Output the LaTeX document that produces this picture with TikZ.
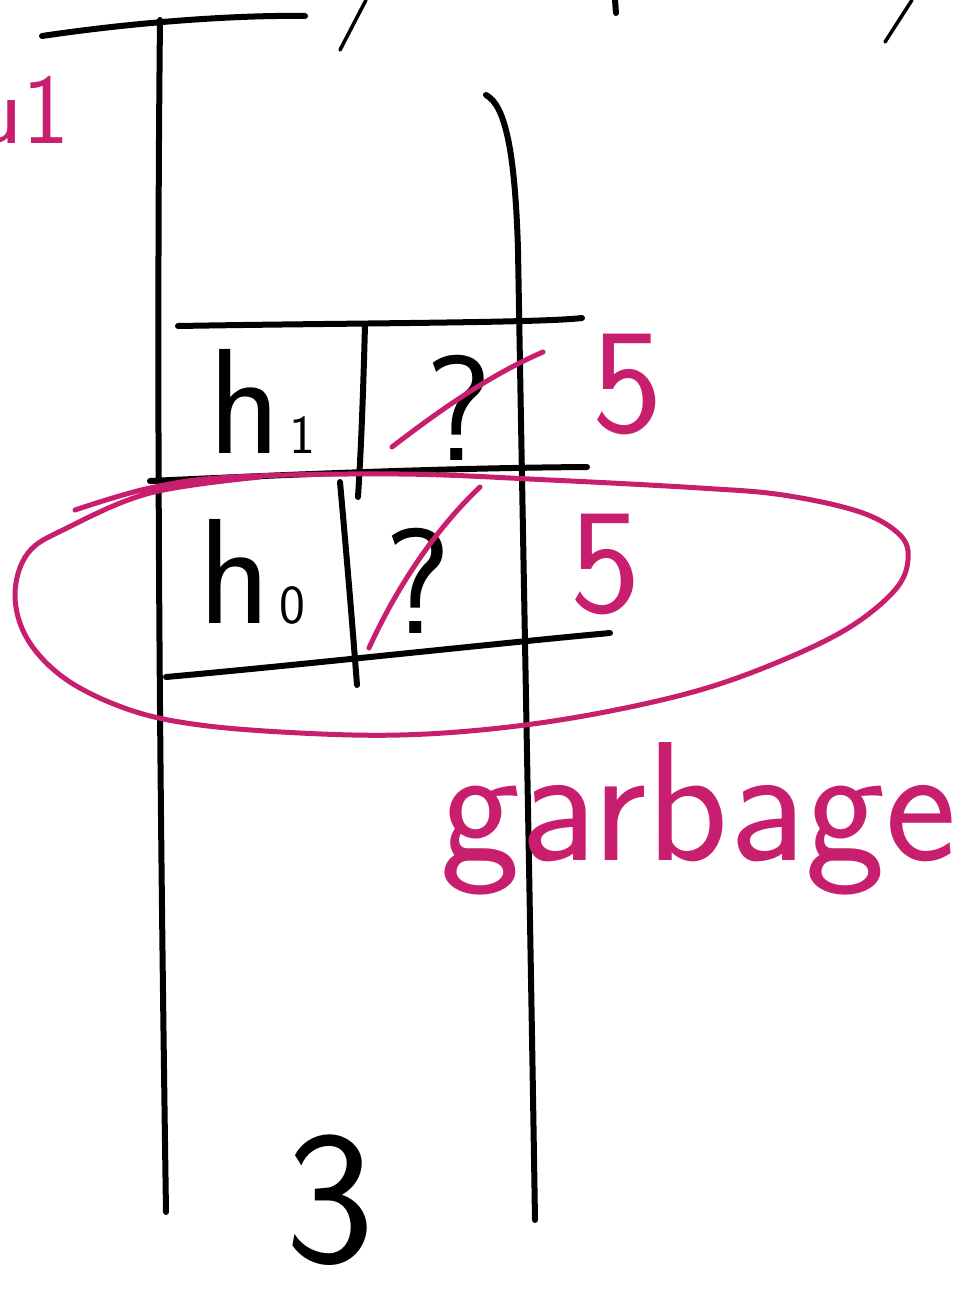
\documentclass[tikz,border=0pt]{standalone}
\usepackage{fontspec}
\definecolor{pinkink}{RGB}{200,30,110}
\tikzset{
  ink/.style={line width=6pt, line cap=round, line join=round},
  thinink/.style={line width=3.5pt, line cap=round},
  pinkstroke/.style={draw=pinkink, line width=5pt, line cap=round, line join=round},
  cellfont/.style={inner sep=0pt, font=\sffamily\fontsize{150}{150}\selectfont},
  pinkfont/.style={inner sep=0pt, text=pinkink, font=\sffamily\fontsize{150}{150}\selectfont},
}
\newcommand{\smallidx}[1]{{\fontsize{55}{55}\selectfont\,#1}}
\begin{document}
\begin{tikzpicture}[x=1pt, y=-1pt]
  \useasboundingbox (0,0) rectangle (957,1291);
  % 위쪽 틀
  \draw[ink] (42,36) .. controls (150,20) and (250,15) .. (305,16);
  \draw[thinink] (340,50) -- (366,0);
  \draw[ink] (615,0) -- (616,13);
  \draw[thinink] (885,42) -- (912,0);
  % 스택의 양쪽 벽
  \draw[ink] (160,20) .. controls (156,400) and (160,800) .. (166,1212);
  \draw[ink] (486,95) .. controls (505,105) and (515,150) .. (518,250)
    .. controls (524,600) and (530,900) .. (535,1220);
  % 두 칸
  \draw[ink] (178,326) .. controls (350,323) and (540,323) .. (582,318);
  \draw[ink] (150,481) .. controls (300,474) and (450,468) .. (587,467);
  \draw[ink] (166,677) .. controls (300,665) and (500,643) .. (610,633);
  \draw[ink] (365,325) .. controls (363,400) and (361,450) .. (358,497);
  \draw[ink] (340,482) .. controls (347,560) and (352,620) .. (357,685);
  \node[cellfont, anchor=base west] (hone) at (208,453) {h\smallidx{1}};
  \node[cellfont, anchor=base] (qone) at (459,460) {?};
  \node[cellfont, anchor=base west] (hzero) at (198,623) {h\smallidx{0}};
  \node[cellfont, anchor=base] (qzero) at (418,633) {?};
  % 지운 표시와 값
  \draw[pinkstroke] (392,447) .. controls (440,410) and (490,375) .. (543,352);
  \draw[pinkstroke] (369,648) .. controls (400,580) and (440,525) .. (480,487);
  \node[pinkfont, anchor=base] (fiveone) at (628,432) {5};
  \node[pinkfont, anchor=base] (fivezero) at (606,612) {5};
  % garbage 고리
  \draw[pinkstroke] plot[smooth, tension=0.6] coordinates {
    (75,510) (150,488) (233,477) (400,474) (550,480) (700,488) (783,495)
    (860,512) (900,535) (908,560) (895,590) (850,627) (783,660) (700,690)
    (600,713) (500,728) (400,735) (300,733) (200,725) (130,710) (67,680)
    (28,640) (15,595) (28,553) (67,528) (150,493) (260,477)};
  \node[pinkfont, anchor=base west, font=\sffamily\fontsize{170}{170}\selectfont]
    (garbage) at (440,860) {garbage};
  \node[pinkfont, anchor=base east, font=\sffamily\fontsize{100}{100}\selectfont]
    (uone) at (70,143) {u1};
  % 크기
  \node[cellfont, anchor=base, font=\sffamily\fontsize{190}{190}\selectfont] (three) at (330,1262) {3};
\end{tikzpicture}
\end{document}
